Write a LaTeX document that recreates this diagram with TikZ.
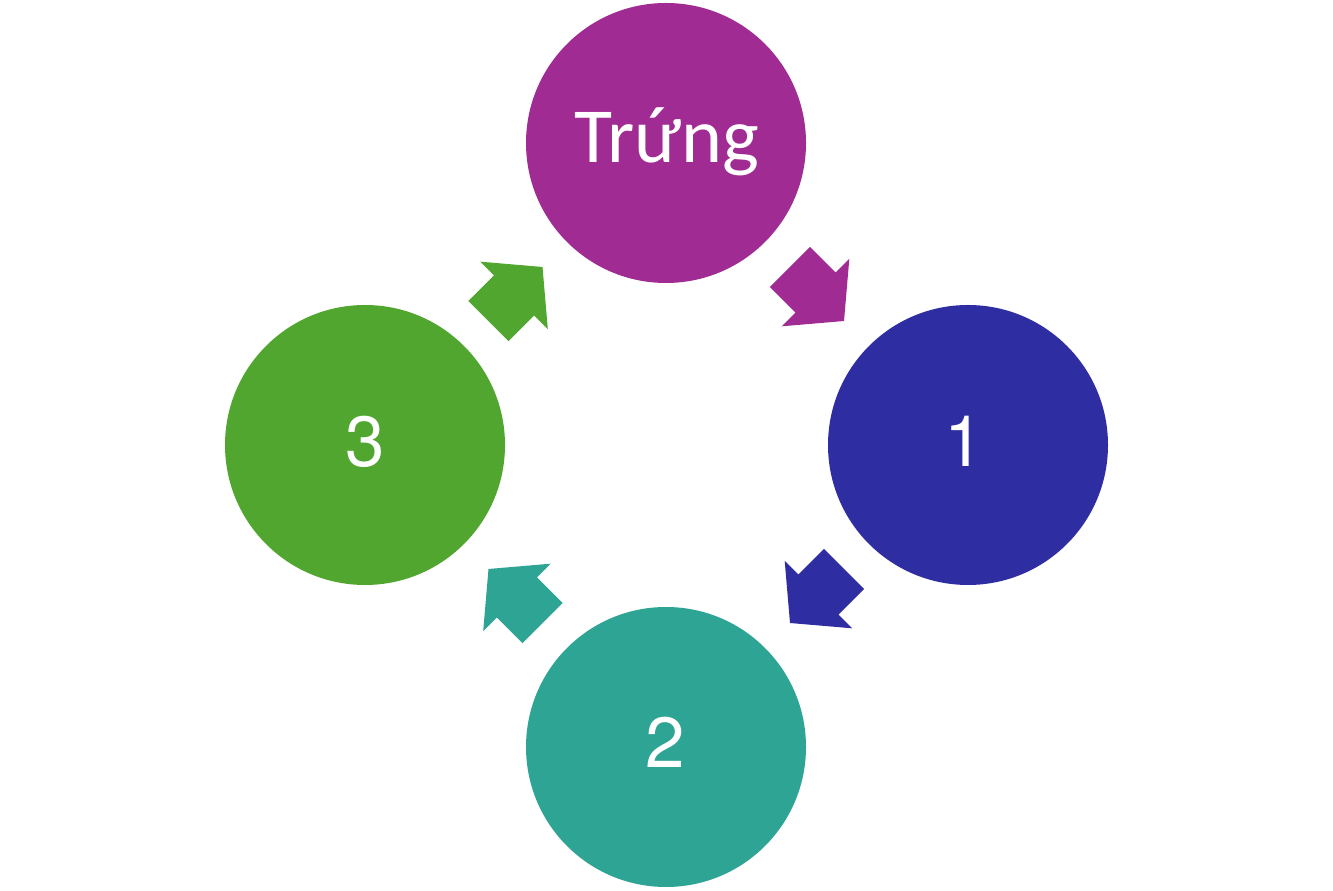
\documentclass[tikz,border=0pt]{standalone}
\usepackage{fontspec}
\setmainfont{TeX Gyre Heros}
\newfontfamily\labfont{Carlito}
\usetikzlibrary{calc}
\definecolor{cPurple}{RGB}{160,43,147}
\definecolor{cBlue}{RGB}{46,46,162}
\definecolor{cTeal}{RGB}{46,165,148}
\definecolor{cGreen}{RGB}{80,166,46}
\tikzset{
  stage/.style={circle, minimum size=280pt, inner sep=0pt, draw=none},
  stagetext/.style={text=white, inner sep=0pt, anchor=base},
  blockarrow/.pic={
    \fill (-38.2,-28.3) -- (-2,-28.3) -- (-2,-47.7) -- (38.2,0) -- (-2,47.7) -- (-2,28.3) -- (-38.2,28.3) -- cycle;
  }
}
\begin{document}
\begin{tikzpicture}[x=1pt,y=1pt]
\useasboundingbox (0,0) rectangle (1333,891);
\node[stage, fill=cPurple] (egg) at (666,748) {};
\node[stage, fill=cBlue] (one) at (968,446) {};
\node[stage, fill=cTeal] (two) at (666,144) {};
\node[stage, fill=cGreen] (three) at (365,446) {};
\node[stagetext, font=\labfont\fontsize{78}{78}\selectfont] (tegg) at (667,728) {Trứng};
\node[stagetext, font=\fontsize{71}{71}\selectfont] (tone) at (964,424) {1};
\node[stagetext, font=\fontsize{71}{71}\selectfont] (ttwo) at (665,123) {2};
\node[stagetext, font=\fontsize{71}{71}\selectfont] (tthree) at (365,424) {3};
\pic[cPurple, rotate=-45] (a1) at ($(egg)!0.5!(one)$) {blockarrow};
\pic[cBlue, rotate=-135] (a2) at ($(one)!0.5!(two)$) {blockarrow};
\pic[cTeal, rotate=135] (a3) at ($(two)!0.5!(three)$) {blockarrow};
\pic[cGreen, rotate=45] (a4) at ($(three)!0.5!(egg)$) {blockarrow};
\end{tikzpicture}
\end{document}
